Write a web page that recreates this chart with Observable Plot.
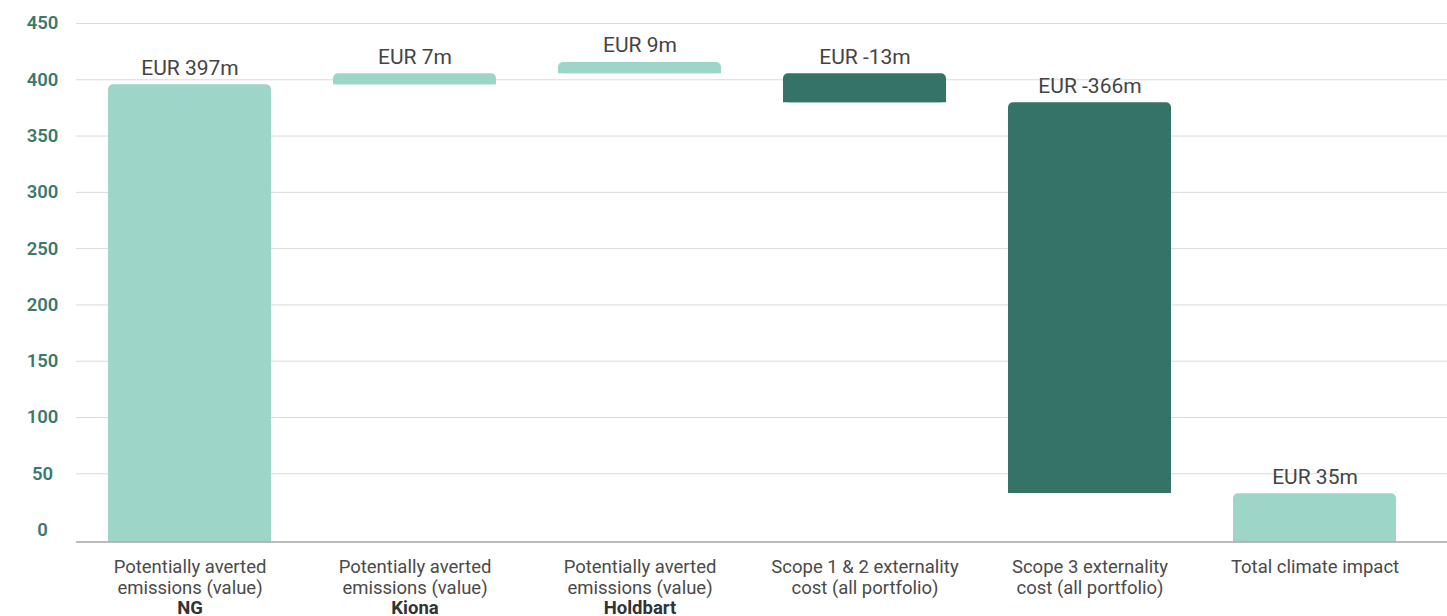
<!DOCTYPE html>
<html>
<head>
<meta charset="utf-8">
<script src="https://cdn.jsdelivr.net/npm/d3@7"></script>
<script src="https://cdn.jsdelivr.net/npm/@observablehq/plot@0.6"></script>
<style>
  html, body { margin: 0; padding: 0; background: #ffffff; }
  #chart { width: 1447px; height: 616px; }
</style>
</head>
<body>
<div id="chart"></div>
<script>
// ---- data ----
const categories = ["NG", "Kiona", "Holdbart", "Scope12", "Scope3", "Total"];
const axisLines = [
  "Potentially averted\nemissions (value)",
  "Potentially averted\nemissions (value)",
  "Potentially averted\nemissions (value)",
  "Scope 1 & 2 externality\ncost (all portfolio)",
  "Scope 3 externality\ncost (all portfolio)",
  "Total climate impact"
];
const axisBold = ["NG", "Kiona", "Holdbart", "", "", ""];
const valueLabels = ["EUR 397m", "EUR 7m", "EUR 9m", "EUR -13m", "EUR -366m", "EUR 35m"];
const yFloor = -10.7;
const barLow  = [yFloor, 395.5, 405.3, 379.6, 32.5, yFloor];
const barHigh = [395.5, 405.3, 415.4, 405.3, 379.6, 32.2];
const barKind = ["up", "up", "up", "down", "down", "total"];
const yTicks = [0, 50, 100, 150, 200, 250, 300, 350, 400, 450];
const gridTicks = [50, 100, 150, 200, 250, 300, 350, 400, 450];

const data = categories.map((c, i) => ({
  key: c,
  low: Math.min(barLow[i], barHigh[i]),
  high: Math.max(barLow[i], barHigh[i]),
  mid: (barLow[i] + barHigh[i]) / 2,
  kind: barKind[i],
  label: valueLabels[i],
  lines: axisLines[i],
  bold: axisBold[i]
}));

const chart = Plot.plot({
  width: 1447,
  height: 616,
  marginLeft: 76,
  marginRight: 0,
  marginTop: 23,
  marginBottom: 74.4,
  style: { fontFamily: "Roboto, 'Noto Sans', sans-serif", background: "#ffffff", overflow: "visible" },
  x: { domain: categories, paddingInner: 0.277, paddingOuter: 0.18, align: 0.383, axis: null },
  y: { domain: [yFloor, 450], axis: null },
  color: { domain: ["up", "down", "total"], range: ["#9dd5c8", "#357367", "#9dd5c8"], legend: false },
  marks: [
    Plot.ruleY(gridTicks, { stroke: "#dadada", strokeWidth: 1 }),
    Plot.barY(data, { x: "key", y1: "low", y2: "high", fill: "kind", rx: 5 }),
    Plot.barY(data, { x: "key", y1: "low", y2: "mid", fill: "kind" }),
    Plot.ruleY([yFloor], { stroke: "#a6a6a6", strokeWidth: 1.5 }),
    Plot.axisY({
      ticks: yTicks, tickSize: 0, tickPadding: 34, textAnchor: "middle",
      fill: "#3a7a6c", fontSize: 18.5, fontWeight: 600, tickFormat: d => String(d)
    }),
    Plot.text(data, {
      x: "key", y: "high", text: "label", lineAnchor: "bottom", dy: -10,
      fontSize: 21, fill: "#444444"
    }),
    Plot.text(data, {
      x: "key", y: () => yFloor, text: "lines", lineAnchor: "top", dy: 15.6,
      lineHeight: 1.16, fontSize: 18.5, fill: "#4a4a4a", clip: false
    }),
    Plot.text(data, {
      x: "key", y: () => yFloor, text: "bold", lineAnchor: "top", dy: 58.6,
      fontSize: 18.5, fontWeight: 700, fill: "#333333", clip: false
    })
  ]
});
document.getElementById("chart").appendChild(chart);
</script>
</body>
</html>
